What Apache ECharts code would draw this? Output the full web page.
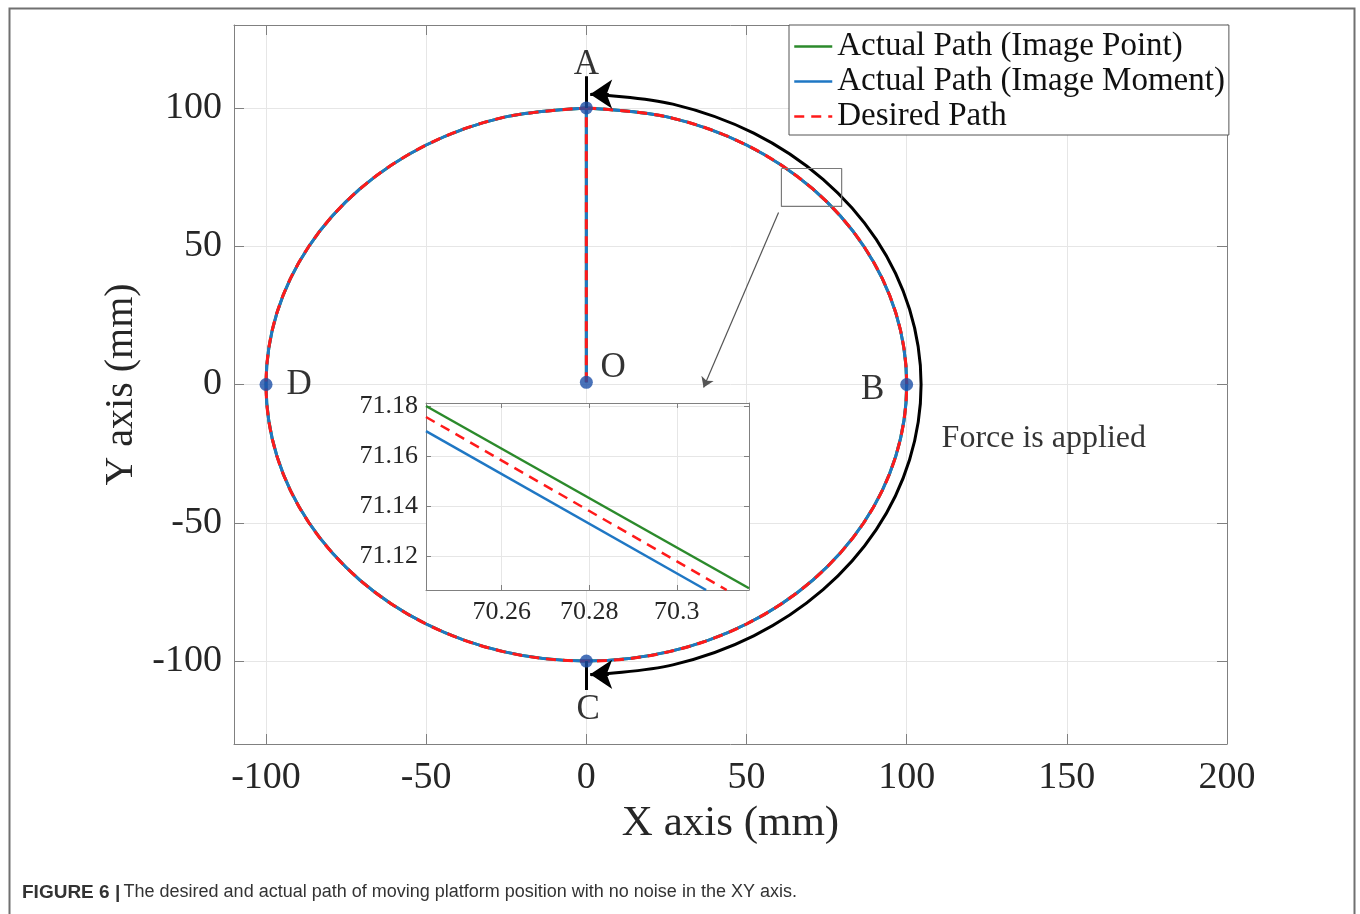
<!DOCTYPE html>
<html>
<head>
<meta charset="utf-8">
<script src="https://cdn.jsdelivr.net/npm/echarts@6/dist/echarts.min.js"></script>
<style>
html,body{margin:0;padding:0;background:#fff;}
#chart{width:1360px;height:914px;}
</style>
</head>
<body>
<div id="chart"></div>
<script>
// ---------- data ----------
const xTicks = [-100, -50, 0, 50, 100, 150, 200];
const yTicks = [-100, -50, 0, 50, 100];
const insetXTicks = [70.26, 70.28, 70.3];
const insetYTicks = [71.12, 71.14, 71.16, 71.18];

const seriesNames = ['Actual Path (Image Point)', 'Actual Path (Image Moment)', 'Desired Path'];

// O -> A approach segment
const approachX = [0, 0];
const approachY = [0.8, 100];
// circular path A -> B -> C -> D -> A (clockwise)
const circleX = [0, 25.9, 50, 70.7, 86.6, 96.6, 100, 96.6, 86.6, 70.7, 50, 25.9, 0,
                 -25.9, -50, -70.7, -86.6, -96.6, -100, -96.6, -86.6, -70.7, -50, -25.9, 0];
const circleY = [100, 96.6, 86.6, 70.7, 50, 25.9, 0, -25.9, -50, -70.7, -86.6, -96.6, -100,
                 -96.6, -86.6, -70.7, -50, -25.9, 0, 25.9, 50, 70.7, 86.6, 96.6, 100];

// inset (zoomed) paths
const insetPointX = [70.2427, 70.3165];
const insetPointY = [71.1800, 71.1070];
const insetMomentX = [70.2427, 70.3067];
const insetMomentY = [71.1699, 71.1063];
const insetDesiredX = [70.2427, 70.3114];
const insetDesiredY = [71.1756, 71.1063];

// key points
const keyNames = ['O', 'A', 'B', 'C', 'D'];
const keyX = [0, 0, 100, 0, -100];
const keyY = [0.8, 100, 0, -100, 0];

// annotation text
const labelNames = ['A', 'O', 'D', 'B', 'C', 'Force is applied'];
const labelX = [0, 8.4, -89.7, 89.4, 0.6, 110.9];
const labelY = [115.7, 6.1, 0, -1.8, -117.5, -19.5];

// force arc (clockwise from A to C)
const arcX = [1.5, 27.0, 52.25, 73.9, 90.5, 100.9, 104.5, 100.9, 90.5, 73.9, 52.25, 27.0, 1.5];
const arcY = [105, 101.4, 90.9, 74.2, 52.5, 27.2, 0, -27.2, -52.5, -74.2, -90.9, -101.4, -105];
const arrowTop = [[7, 105], [1.2, 105]];
const arrowBottom = [[7, -104.8], [1.2, -104.8]];
const tickTopA = [[0, 100], [0, 111.5]];
const tickBottomC = [[0, -100], [0, -110.5]];

// zoom box + pointer
const boxX = [60.9, 79.7, 79.7, 60.9, 60.9];
const boxY = [78.1, 78.1, 64.4, 64.4, 78.1];
const pointerLine = [[60, 62.2], [36.6, -1.1]];

// ---------- helpers ----------
const zip = (xs, ys) => xs.map((x, i) => [x, ys[i]]);
const SERIF = '"Liberation Serif", "Times New Roman", serif';
const SANS = '"Liberation Sans", Arial, sans-serif';
const GREEN = '#2b8a2b', BLUE = '#1f77c4', RED = '#ff1a1a', DOT = '#1b4fa8';
const AX = '#808080', GRIDC = '#e6e6e6', TXT = '#262626';

function mainX(pos, withLabels) {
  return {
    type: 'value', gridIndex: 0, position: pos, min: -110, max: 200,
    axisLine: { show: true, onZero: false, lineStyle: { color: AX, width: 1 } },
    axisTick: { show: true, inside: true, length: 10, customValues: xTicks, lineStyle: { color: AX } },
    axisLabel: withLabels ? { show: true, customValues: xTicks, fontSize: 38, fontFamily: SERIF, color: TXT, margin: 15 } : { show: false },
    splitLine: withLabels ? { show: true, lineStyle: { color: GRIDC, width: 1 } } : { show: false },
    name: withLabels ? 'X axis (mm)' : '',
    nameLocation: 'middle', nameGap: 57,
    nameTextStyle: { fontSize: 43, fontFamily: SERIF, color: TXT }
  };
}
function mainY(pos, withLabels) {
  return {
    type: 'value', gridIndex: 0, position: pos, min: -130, max: 130,
    axisLine: { show: true, onZero: false, lineStyle: { color: AX, width: 1 } },
    axisTick: { show: true, inside: true, length: 10, customValues: yTicks, lineStyle: { color: AX } },
    axisLabel: withLabels ? { show: true, customValues: yTicks, fontSize: 38, fontFamily: SERIF, color: TXT, margin: 12 } : { show: false },
    splitLine: withLabels ? { show: true, lineStyle: { color: GRIDC, width: 1 } } : { show: false },
    name: withLabels ? 'Y axis (mm)' : '',
    nameLocation: 'middle', nameGap: 78, nameRotate: 90,
    nameTextStyle: { fontSize: 40, fontFamily: SERIF, color: TXT }
  };
}
function insetX(pos, withLabels) {
  return {
    type: 'value', gridIndex: 1, position: pos, min: 70.2427, max: 70.3165, z: 11,
    axisLine: { show: true, onZero: false, lineStyle: { color: AX, width: 1 } },
    axisTick: { show: true, inside: true, length: 5, customValues: insetXTicks, lineStyle: { color: AX } },
    axisLabel: withLabels ? { show: true, customValues: insetXTicks, fontSize: 26, fontFamily: SERIF, color: TXT, margin: 9 } : { show: false },
    splitLine: withLabels ? { show: true, lineStyle: { color: GRIDC, width: 1 } } : { show: false }
  };
}
function insetY(pos, withLabels) {
  return {
    type: 'value', gridIndex: 1, position: pos, min: 71.1063, max: 71.1812, z: 11,
    axisLine: { show: true, onZero: false, lineStyle: { color: AX, width: 1 } },
    axisTick: { show: true, inside: true, length: 5, customValues: insetYTicks, lineStyle: { color: AX } },
    axisLabel: withLabels ? { show: true, customValues: insetYTicks, fontSize: 26, fontFamily: SERIF, color: TXT, margin: 8 } : { show: false },
    splitLine: withLabels ? { show: true, lineStyle: { color: GRIDC, width: 1 } } : { show: false }
  };
}

function pathSeries(name, xs, ys, color, width, dashed, axisIdx, z, smooth) {
  return {
    type: 'line', name: name, xAxisIndex: axisIdx, yAxisIndex: axisIdx,
    data: zip(xs, ys), symbol: 'none', smooth: smooth ? 0.34 : false,
    lineStyle: { color: color, width: width, type: dashed ? [10, 7] : 'solid', cap: 'butt' },
    itemStyle: { color: color }, z: z, animation: false
  };
}

const series = [];
// main plot paths
[[seriesNames[0], GREEN, false], [seriesNames[1], BLUE, false], [seriesNames[2], RED, true]].forEach((d, i) => {
  series.push(pathSeries(d[0], approachX, approachY, d[1], 3, d[2], 0, 2 + i, false));
  series.push(pathSeries(d[0], circleX, circleY, d[1], 3, d[2], 0, 2 + i, true));
});
// force arc
series.push({
  type: 'line', xAxisIndex: 0, yAxisIndex: 0, data: zip(arcX, arcY), symbol: 'none', smooth: 0.34,
  lineStyle: { color: '#000', width: 3 }, z: 3, animation: false, silent: true
});
// arrow heads + short vertical bars
series.push({
  type: 'lines', coordinateSystem: 'cartesian2d', xAxisIndex: 0, yAxisIndex: 0,
  data: [{ coords: arrowTop }, { coords: arrowBottom }],
  symbol: ['none', 'arrow'], symbolSize: [0, 22],
  lineStyle: { color: '#000', width: 3, opacity: 1 }, z: 6, animation: false, silent: true
});
series.push({
  type: 'lines', coordinateSystem: 'cartesian2d', xAxisIndex: 0, yAxisIndex: 0,
  data: [{ coords: tickTopA }, { coords: tickBottomC }],
  symbol: 'none', lineStyle: { color: '#000', width: 3, opacity: 1 }, z: 6, animation: false, silent: true
});
// zoom box
series.push({
  type: 'line', xAxisIndex: 0, yAxisIndex: 0, data: zip(boxX, boxY), symbol: 'none',
  lineStyle: { color: '#7a7a7a', width: 1.2 }, z: 6, animation: false, silent: true
});
// pointer arrow
series.push({
  type: 'lines', coordinateSystem: 'cartesian2d', xAxisIndex: 0, yAxisIndex: 0,
  data: [{ coords: pointerLine }], symbol: ['none', 'arrow'], symbolSize: [0, 10],
  lineStyle: { color: '#555', width: 1.2, opacity: 1 }, z: 6, animation: false, silent: true
});
// key points
series.push({
  type: 'scatter', xAxisIndex: 0, yAxisIndex: 0, data: zip(keyX, keyY).map((p, i) => ({ name: keyNames[i], value: p })),
  symbol: 'circle', symbolSize: 13, itemStyle: { color: DOT }, z: 7, animation: false, silent: true
});
// annotation labels
series.push({
  type: 'scatter', xAxisIndex: 0, yAxisIndex: 0, symbolSize: 1, itemStyle: { color: 'rgba(0,0,0,0)' },
  data: labelNames.map((n, i) => ({
    name: n, value: [labelX[i], labelY[i]],
    label: n.length > 1 ? { align: 'left', fontSize: 32 } : {}
  })),
  label: { show: true, position: 'inside', formatter: '{b}', fontSize: 35, fontFamily: SERIF, color: '#000' },
  z: 8, animation: false, silent: true
});
// inset paths
series.push(pathSeries(seriesNames[0], insetPointX, insetPointY, GREEN, 2.5, false, 2, 12, false));
series.push(pathSeries(seriesNames[1], insetMomentX, insetMomentY, BLUE, 2.5, false, 2, 12, false));
series.push(pathSeries(seriesNames[2], insetDesiredX, insetDesiredY, RED, 2.5, true, 2, 13, false));

const option = {
  animation: false,
  backgroundColor: '#fff',
  grid: [
    { left: 234, top: 25, right: 133, bottom: 170, containLabel: false, outerBoundsMode: 'none' },
    { left: 426, top: 403, width: 323, height: 187, show: true, backgroundColor: '#fff', borderWidth: 0, z: 10, containLabel: false, outerBoundsMode: 'none' }
  ],
  xAxis: [mainX('bottom', true), mainX('top', false), insetX('bottom', true), insetX('top', false)],
  yAxis: [mainY('left', true), mainY('right', false), insetY('left', true), insetY('right', false)],
  legend: {
    data: seriesNames, orient: 'vertical', left: 789, top: 25,
    backgroundColor: '#fff', borderColor: '#555', borderWidth: 1, borderRadius: 0,
    padding: [4, 4, 1, 4], itemGap: 0, itemWidth: 38, itemHeight: 14,
    itemStyle: { opacity: 0 },
    lineStyle: { width: 2.5 },
    textStyle: { fontSize: 33, fontFamily: SERIF, color: '#111', lineHeight: 35 },
    selectedMode: false, z: 20
  },
  graphic: [
    {
      type: 'rect', left: 7, top: 6, z: 100, silent: true,
      shape: { x: 0, y: 0, width: 1345, height: 1000 },
      style: { fill: 'none', stroke: '#707070', lineWidth: 2 }
    },
    {
      type: 'text', left: 22, top: 883, z: 100, silent: true,
      style: {
        text: '{b|FIGURE 6 |} {n|The desired and actual path of moving platform position with no noise in the XY axis.}',
        rich: {
          b: { fontFamily: SANS, fontSize: 19, fontWeight: 'bold', fill: '#333' },
          n: { fontFamily: SANS, fontSize: 18, fill: '#333' }
        }
      }
    }
  ],
  series: series
};

const chart = echarts.init(document.getElementById('chart'), null, { renderer: 'canvas' });
chart.setOption(option);
</script>
</body>
</html>
